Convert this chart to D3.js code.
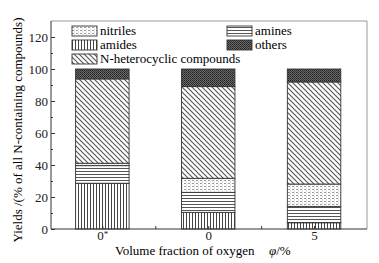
<!DOCTYPE html>
<html><head><meta charset="utf-8">
<script src="https://cdn.jsdelivr.net/npm/d3@7"></script>
<style>body{margin:0;background:#fff}svg{display:block}</style>
</head><body><svg id="c" width="379" height="263"></svg>
<script>
const categories = ["0*", "0", "5"];
const amides = [28.6, 10.4, 3.9];
const amines = [11.0, 12.5, 10.1];
const nitriles = [1.5, 8.8, 14.1];
const nHeterocyclic = [52.7, 57.3, 63.8];
const others = [6.2, 11.0, 8.1];
const seriesNames = ["amides", "amines", "nitriles", "N-heterocyclic compounds", "others"];
const yTicks = [0, 20, 40, 60, 80, 100, 120];

const FONT = "'Liberation Serif', 'DejaVu Serif', serif";
const svg = d3.select("#c");
const L = 51, R = 367, T = 21, B = 229;
const x = d3.scaleLinear().domain([-0.485, 2.5]).range([L, R]);
const y = d3.scaleLinear().domain([0, 130]).range([B, T]);
const barW = 0.505;

// patterns
const defs = svg.append("defs");
function pat(id, w, h, build, bg) {
  const p = defs.append("pattern").attr("id", id).attr("patternUnits", "userSpaceOnUse").attr("width", w).attr("height", h);
  p.append("rect").attr("width", w).attr("height", h).attr("fill", bg || "#fff");
  build(p);
}
pat("p-amides", 3, 3, p => p.append("rect").attr("x", 0).attr("y", 0).attr("width", 1).attr("height", 3).attr("fill", "#444"));
pat("p-amines", 3, 3, p => p.append("rect").attr("x", 0).attr("y", 0).attr("width", 3).attr("height", 1).attr("fill", "#555"));
pat("p-nitriles", 4, 3, p => {
  p.append("rect").attr("x", 0).attr("y", 0).attr("width", 2).attr("height", 1).attr("fill", "#999");
  p.append("rect").attr("x", 2).attr("y", 1.5).attr("width", 1).attr("height", 1).attr("fill", "#bbb");
});
pat("p-nhet", 5, 5, p => p.append("path").attr("d", "M-1,-1L6,6M-1,4L1,6M4,-1L6,1").attr("stroke", "#555").attr("stroke-width", 1.1).attr("fill", "none"));
pat("p-others", 2, 2, p => {
  p.append("rect").attr("x", 0).attr("y", 0).attr("width", 1).attr("height", 1).attr("fill", "#222");
  p.append("rect").attr("x", 1).attr("y", 1).attr("width", 1).attr("height", 1).attr("fill", "#333");
}, "#6a6a6a");
const fills = {"amides": "url(#p-amides)", "amines": "url(#p-amines)", "nitriles": "url(#p-nitriles)", "N-heterocyclic compounds": "url(#p-nhet)", "others": "url(#p-others)"};

// frame (top & right light)
svg.append("line").attr("x1", L).attr("x2", R).attr("y1", T).attr("y2", T).attr("stroke", "#999");
svg.append("line").attr("x1", R).attr("x2", R).attr("y1", T).attr("y2", B).attr("stroke", "#999");

// data table & stack
const table = categories.map((c, i) => ({cat: c, i: i, "amides": amides[i], "amines": amines[i], "nitriles": nitriles[i], "N-heterocyclic compounds": nHeterocyclic[i], "others": others[i]}));
const stacked = d3.stack().keys(seriesNames)(table);
const g = svg.append("g");
stacked.forEach(s => {
  g.selectAll(null).data(s).enter().append("rect")
    .attr("x", d => x(d.data.i - barW / 2))
    .attr("width", d => x(barW) - x(0))
    .attr("y", d => y(d[1]))
    .attr("height", d => y(d[0]) - y(d[1]))
    .attr("fill", fills[s.key])
    .attr("stroke", "#333").attr("stroke-width", 0.9);
});

// axes
const yAxis = d3.axisLeft(y).tickValues(yTicks).tickSizeInner(-4).tickSizeOuter(0).tickPadding(3);
const ya = svg.append("g").attr("transform", `translate(${L},0)`).call(yAxis);
const yMinor = svg.append("g").attr("transform", `translate(${L},0)`).call(d3.axisLeft(y).tickValues(d3.range(10, 130, 20)).tickSize(-2).tickFormat(""));
const xAxis = d3.axisBottom(x).tickValues([0, 1, 2]).tickFormat(i => categories[i]).tickSizeInner(-3).tickSizeOuter(0).tickPadding(2);
const xa = svg.append("g").attr("transform", `translate(0,${B})`).call(xAxis);
const xMinor = svg.append("g").attr("transform", `translate(0,${B})`).call(d3.axisBottom(x).tickValues([0.5, 1.5]).tickSize(-3).tickFormat(""));
[ya, yMinor, xa, xMinor].forEach(a => {
  a.selectAll("line").attr("stroke", "#333");
  a.selectAll("text").attr("font-size", 13).attr("fill", "#222");
});
yMinor.select("path.domain").remove();
xMinor.select("path.domain").remove();
ya.select("path.domain").remove();
xa.select("path.domain").remove();
svg.append("line").attr("x1", L).attr("x2", L).attr("y1", T).attr("y2", B).attr("stroke", "#333");
svg.append("line").attr("x1", L).attr("x2", R).attr("y1", B).attr("y2", B).attr("stroke", "#333");

// "0*" with superscript asterisk
xa.selectAll("text").each(function(i) {
  const t = d3.select(this);
  if (categories[i].endsWith("*")) {
    t.text(null);
    t.append("tspan").text(categories[i].slice(0, -1));
    t.append("tspan").attr("dy", "-0.4em").attr("font-size", 9).text("*");
  }
});

// axis titles
const xt = svg.append("text").attr("x", 115).attr("y", 255).attr("font-size", 13);
xt.append("tspan").text("Volume fraction of oxygen");
xt.append("tspan").attr("x", 269).attr("font-style", "italic").text("φ");
xt.append("tspan").text("/%");
svg.append("text").attr("transform", "translate(21.5,130) rotate(-90)").attr("text-anchor", "middle").attr("font-size", 13)
  .text("Yields /(% of all N-containing compounds)");

// legend
const legendItems = [
  {k: "nitriles", x: 72, y: 26}, {k: "amides", x: 72, y: 40}, {k: "N-heterocyclic compounds", x: 72, y: 54},
  {k: "amines", x: 227, y: 26}, {k: "others", x: 227, y: 40}
];
const lg = svg.append("g").selectAll("g").data(legendItems).enter().append("g");
lg.append("rect").attr("x", d => d.x).attr("y", d => d.y).attr("width", 25).attr("height", 10)
  .attr("fill", d => fills[d.k]).attr("stroke", "#333").attr("stroke-width", 0.9);
lg.append("text").attr("x", d => d.x + 28).attr("y", d => d.y + 9).attr("font-size", 13).text(d => d.k);

// apply serif font everywhere
svg.selectAll("g").attr("font-family", null);
svg.selectAll("text").attr("font-family", FONT).style("font-family", FONT);
</script></body></html>
